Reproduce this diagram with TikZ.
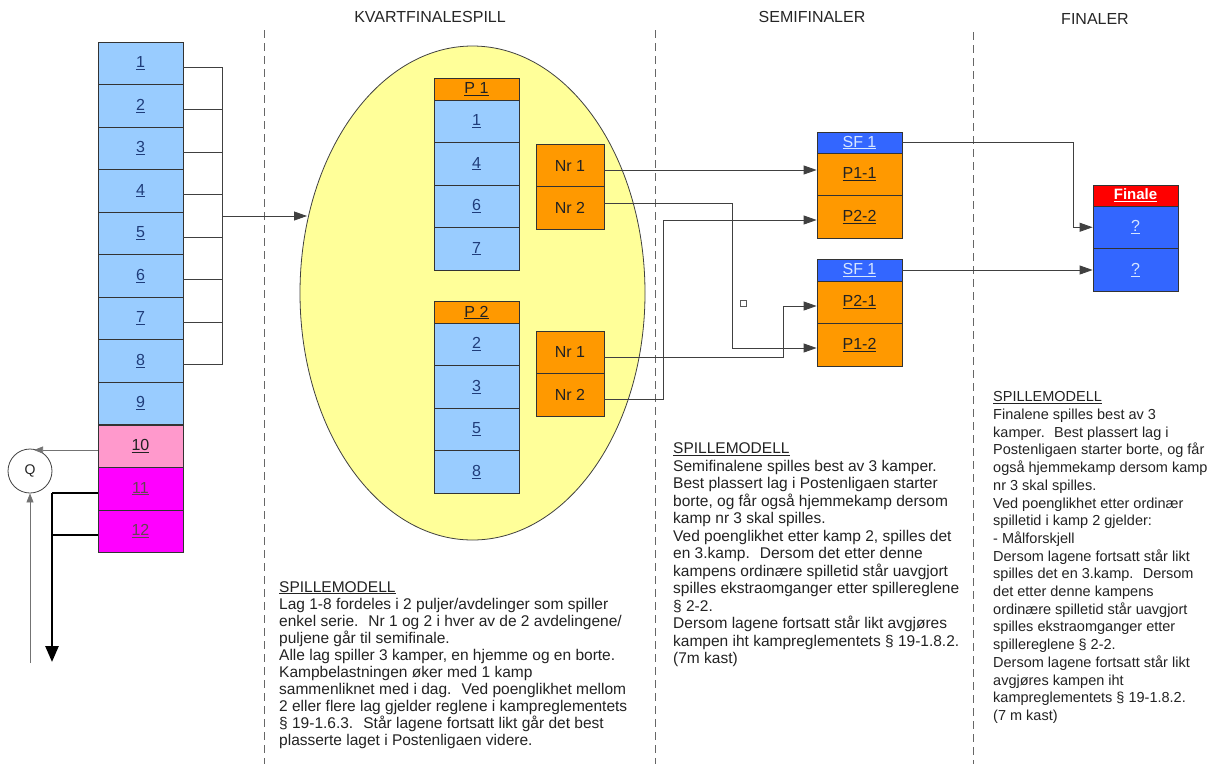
\documentclass[tikz,border=0pt]{standalone}
\usepackage{fontspec}
\setmainfont{Liberation Sans}
\usetikzlibrary{arrows.meta,calc,shapes.geometric}
\definecolor{lblue}{HTML}{99CCFF}
\definecolor{linkblue}{HTML}{1F3C7A}
\definecolor{pinkc}{HTML}{FF99CC}
\definecolor{magc}{HTML}{FF00FF}
\definecolor{orangec}{HTML}{FF9900}
\definecolor{sfblue}{HTML}{3366FF}
\definecolor{sftext}{HTML}{D6E6FF}
\definecolor{redc}{HTML}{FF0000}
\definecolor{yellowc}{HTML}{FFFF99}
\definecolor{txtc}{HTML}{222222}
\begin{document}
\begin{tikzpicture}[x=1pt,y=-1pt,
  cell/.style={draw=black!80, line width=0.8pt, minimum width=85pt, minimum height=42.5pt,
    inner sep=0pt, font=\fontsize{16}{18}\selectfont, text=txtc},
  bluecell/.style={cell, fill=lblue, text=linkblue},
  hdr/.style={cell, minimum height=22pt},
  nrbox/.style={cell, fill=orangec, minimum width=68pt, minimum height=42.5pt},
  conn/.style={draw=black!75, line width=0.8pt},
  arr/.style={conn, -{Triangle[length=13pt,width=9pt]}},
  thinarr/.style={draw=black!55, line width=0.7pt, -{Triangle[length=9pt,width=7pt]}},
  thickline/.style={draw=black, line width=2.6pt},
  divider/.style={draw=black!60, line width=0.9pt, dash pattern=on 8pt off 5pt},
  title/.style={font=\fontsize{16}{19}\selectfont, text=black!85, inner sep=0pt},
  txt/.style={font=\fontsize{15.5}{17.5}\selectfont, text=txtc, align=left, inner sep=0pt, anchor=north west}
]
\useasboundingbox (0,0) rectangle (1218,764);

% dividers
\draw[divider] (264,30) -- (264,764);
\draw[divider] (655,30) -- (655,764);
\draw[divider] (973,32) -- (973,764);

% titles
\node[title] (tq) at (430,17) {KVARTFINALESPILL};
\node[title] (ts) at (812,17) {SEMIFINALER};
\node[title] (tf) at (1095,19) {FINALER};

% left column
\foreach \i in {1,...,9}
  \node[bluecell] (c\i) at (140.5,{42+42.5*(\i-0.5)}) {\underline{\i}};
\node[cell, fill=pinkc] (c10) at (140.5,446.25) {\underline{10}};
\node[cell, fill=magc, text=black!70!magenta] (c11) at (140.5,488.75) {\underline{11}};
\node[cell, fill=magc, text=black!70!magenta] (c12) at (140.5,531.25) {\underline{12}};

% bus
\coordinate (bus) at (222,216);
\foreach \i in {1,...,8}
  \draw[conn] ([yshift=-4pt]c\i.east) -- ([yshift=-4pt]c\i.east -| bus);
\draw[conn] ([yshift=-4pt]c1.east -| bus) -- ([yshift=-4pt]c8.east -| bus);

% ellipse
\node[ellipse, draw=black!75, line width=0.8pt, fill=yellowc, minimum width=345pt,
  minimum height=494pt, inner sep=0pt] (ell) at (472.5,293) {};
\coordinate (ellin) at (307,216);
\draw[arr] (bus) -- (ellin);

% pool 1
\node[hdr, fill=orangec] (p1h) at (476.5,89) {\underline{P 1}};
\node[bluecell] (p1a) at (476.5,121.25) {\underline{1}};
\node[bluecell] (p1b) at (476.5,163.75) {\underline{4}};
\node[bluecell] (p1c) at (476.5,206.25) {\underline{6}};
\node[bluecell] (p1d) at (476.5,248.75) {\underline{7}};
\node[nrbox] (n11) at (570,165.5) {Nr 1};
\node[nrbox] (n12) at (570,208) {Nr 2};

% pool 2
\node[hdr, fill=orangec] (p2h) at (476.5,312.5) {\underline{P 2}};
\node[bluecell] (p2a) at (476.5,344.25) {\underline{2}};
\node[bluecell] (p2b) at (476.5,386.75) {\underline{3}};
\node[bluecell] (p2c) at (476.5,429.25) {\underline{5}};
\node[bluecell] (p2d) at (476.5,471.75) {\underline{8}};
\node[nrbox] (n21) at (570,352.25) {Nr 1};
\node[nrbox] (n22) at (570,394.75) {Nr 2};

% semifinals
\node[hdr, fill=sfblue, text=sftext, minimum height=21pt] (sf1h) at (859.5,142.5) {\underline{SF 1}};
\node[cell, fill=orangec] (sf1a) at (859.5,174.25) {\underline{P1-1}};
\node[cell, fill=orangec] (sf1b) at (859.5,216.75) {\underline{P2-2}};
\node[hdr, fill=sfblue, text=sftext] (sf2h) at (859.5,270) {\underline{SF 1}};
\node[cell, fill=orangec] (sf2a) at (859.5,302.25) {\underline{P2-1}};
\node[cell, fill=orangec] (sf2b) at (859.5,344.75) {\underline{P1-2}};

% finale
\node[hdr, fill=redc, text=white, minimum height=21pt, font=\fontsize{15}{17}\selectfont\bfseries] (fh) at (1135.5,195.5) {\underline{Finale}};
\node[cell, fill=sfblue, text=sftext] (f1) at (1135.5,227.25) {\underline{?}};
\node[cell, fill=sfblue, text=sftext] (f2) at (1135.5,269.75) {\underline{?}};

% connectors to semifinals
\draw[arr] ([yshift=-4.5pt]n11.east) -- ([yshift=-4.5pt]n11.east -| sf1a.west);
\draw[arr] ([yshift=4.5pt]n12.east) -- ++(128,0) |- ([yshift=-3.25pt]sf2b.west);
\draw[arr] ([yshift=-4.75pt]n21.east) -- ++(179,0) |- ([yshift=-3.75pt]sf2a.west);
\draw[arr] ([yshift=-4.25pt]n22.east) -- ++(59,0) |- ([yshift=-3.25pt]sf1b.west);

% connectors to finale
\draw[arr] (sf1h.east) -- ++(171,0) |- (f1.west);
\draw[arr] (sf2h.east) -- (sf2h.east -| f2.west);

% small square
\node[draw=black!65, line width=0.6pt, minimum size=6pt, inner sep=0pt] (sq) at (743,303) {};

% Q
\node[draw=black!75, line width=0.8pt, circle, minimum size=44pt, inner sep=0pt,
  font=\fontsize{14}{16}\selectfont, text=txtc] (q) at (30,471) {Q};
\coordinate (qin) at (34,450);
\draw[thinarr] ([yshift=-3.75pt]c10.west) -- (qin);
\coordinate (qbot) at (30,663);
\draw[thinarr] (qbot) -- (q.south);
\coordinate (tk) at (52,662);
\draw[thickline] ([yshift=-4.25pt]c11.west) -- ([yshift=-4.25pt]c11.west -| tk);
\draw[thickline] ([yshift=-3.75pt]c12.west) -- ([yshift=-3.75pt]c12.west -| tk);
\draw[thickline, -{Triangle[length=16pt,width=13pt]}] ([yshift=-4.25pt]c11.west -| tk) -- (tk);

% texts
\node[txt, font=\fontsize{15.5}{17}\selectfont] (t1) at (279,581) {\underline{SPILLEMODELL}\\
Lag 1-8 fordeles i 2 puljer/avdelinger som spiller\\
enkel serie.~ Nr 1 og 2 i hver av de 2 avdelingene/\\
puljene går til semifinale.\\
Alle lag spiller 3 kamper, en hjemme og en borte.\\
Kampbelastningen øker med 1 kamp\\
sammenliknet med i dag.~ Ved poenglikhet mellom\\
2 eller flere lag gjelder reglene i kampreglementets\\
§ 19-1.6.3.~ Står lagene fortsatt likt går det best\\
plasserte laget i Postenligaen videre.};

\node[txt] (t2) at (673,442.5) {\underline{SPILLEMODELL}\\
Semifinalene spilles best av 3 kamper.\\
Best plassert lag i Postenligaen starter\\
borte, og får også hjemmekamp dersom\\
kamp nr 3 skal spilles.\\
Ved poenglikhet etter kamp 2, spilles det\\
en 3.kamp.~ Dersom det etter denne\\
kampens ordinære spilletid står uavgjort\\
spilles ekstraomganger etter spillereglene\\
§ 2-2.\\
Dersom lagene fortsatt står likt avgjøres\\
kampen iht kampreglementets § 19-1.8.2.\\
(7m kast)};

\node[txt, font=\fontsize{14.5}{17.7}\selectfont] (t3) at (993,391.5) {\underline{SPILLEMODELL}\\
Finalene spilles best av 3\\
kamper.~ Best plassert lag i\\
Postenligaen starter borte, og får\\
også hjemmekamp dersom kamp\\
nr 3 skal spilles.\\
Ved poenglikhet etter ordinær\\
spilletid i kamp 2 gjelder:\\
- Målforskjell\\
Dersom lagene fortsatt står likt\\
spilles det en 3.kamp.~ Dersom\\
det etter denne kampens\\
ordinære spilletid står uavgjort\\
spilles ekstraomganger etter\\
spillereglene § 2-2.\\
Dersom lagene fortsatt står likt\\
avgjøres kampen iht\\
kampreglementets § 19-1.8.2.\\
(7 m kast)};
\end{tikzpicture}
\end{document}
